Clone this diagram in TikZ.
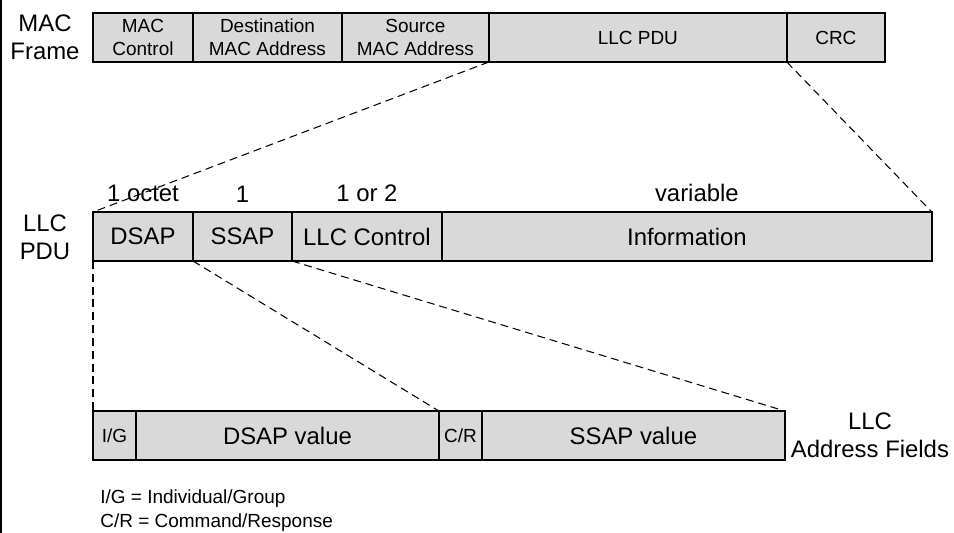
\documentclass[tikz,border=0pt]{standalone}
\usepackage{fontspec}
\setmainfont{Liberation Sans}
\usetikzlibrary{positioning}
\tikzset{
	fld/.style={draw, line width=1.2pt, fill=black!15, inner sep=0pt, outer sep=0pt, minimum height=0.98cm, align=center, font=\fontsize{13.6}{16}\selectfont},
	smallfld/.style={fld, font=\fontsize{10.8}{13}\selectfont},
	lbl/.style={inner sep=0pt, align=center, font=\fontsize{13.6}{16}\selectfont},
	link/.style={line width=0.6pt, dash pattern=on 4.5pt off 2.8pt}
}

\begin{document}
\begin{tikzpicture}[x=0.02cm, y=-0.02cm]
			%%%%% START %%%%%
			\useasboundingbox (0, 0) rectangle (954, 532);
			\draw[line width=0.9pt] (1, -5) -- (1, 540);
			
			% MAC frame
			\node[lbl] (macfrm) at (45, 37) {MAC\\Frame};
			\node[smallfld, minimum width=2.00cm, anchor=north west] (macctl) at (93, 13) {MAC\\Control};
			\node[smallfld, minimum width=2.98cm, right=0pt of macctl] (dstmac) {Destination\\MAC Address};
			\node[smallfld, minimum width=2.94cm, right=0pt of dstmac] (srcmac) {Source\\MAC Address};
			\node[smallfld, minimum width=5.96cm, right=0pt of srcmac] (llcpdu) {LLC PDU};
			\node[smallfld, minimum width=1.96cm, right=0pt of llcpdu] (crc) {CRC};
			
			% LLC PDU
			\node[lbl] (llclbl) at (45, 237) {LLC\\PDU};
			\node[fld, minimum width=2.00cm, anchor=north west] (dsap) at (93, 212) {DSAP};
			\node[fld, minimum width=1.98cm, right=0pt of dsap] (ssap) {SSAP};
			\node[fld, minimum width=3.00cm, right=0pt of ssap] (llcctl) {LLC Control};
			\node[fld, minimum width=9.80cm, right=0pt of llcctl] (info) {Information};
			
			\node[lbl, above=0.19cm of dsap] (szdsap) {1 octet};
			\node[lbl, above=0.19cm of ssap] (szssap) {1};
			\node[lbl, above=0.19cm of llcctl] (szctl) {1 or 2};
			\node[lbl, above=0.19cm of info, xshift=0.2cm] (szinfo) {variable};
			
			% address fields
			\node[smallfld, minimum width=0.86cm, anchor=north west] (ig) at (93, 411) {I/G};
			\node[fld, minimum width=6.06cm, right=0pt of ig] (dsapval) {DSAP value};
			\node[smallfld, minimum width=0.86cm, right=0pt of dsapval] (cr) {C/R};
			\node[fld, minimum width=6.06cm, right=0pt of cr] (ssapval) {SSAP value};
			\node[lbl] (addrlbl) at (870, 435) {LLC\\Address Fields};
			
			\node[lbl, align=left, anchor=north west, font=\fontsize{10.8}{13.6}\selectfont] (legend) at (100, 489) {I/G = Individual/Group\\C/R = Command/Response};
			
			% expansions
			\draw[link] (llcpdu.south west) -- (dsap.north west);
			\draw[link] (llcpdu.south east) -- (info.north east);
			\draw[link] (dsap.south west) -- (ig.north west);
			\draw[link] (dsap.south east) -- (cr.north west);
			\draw[link] (ssap.south east) -- (ssapval.north east);
			%%%%% END %%%%%
		\end{tikzpicture}
\end{document}
